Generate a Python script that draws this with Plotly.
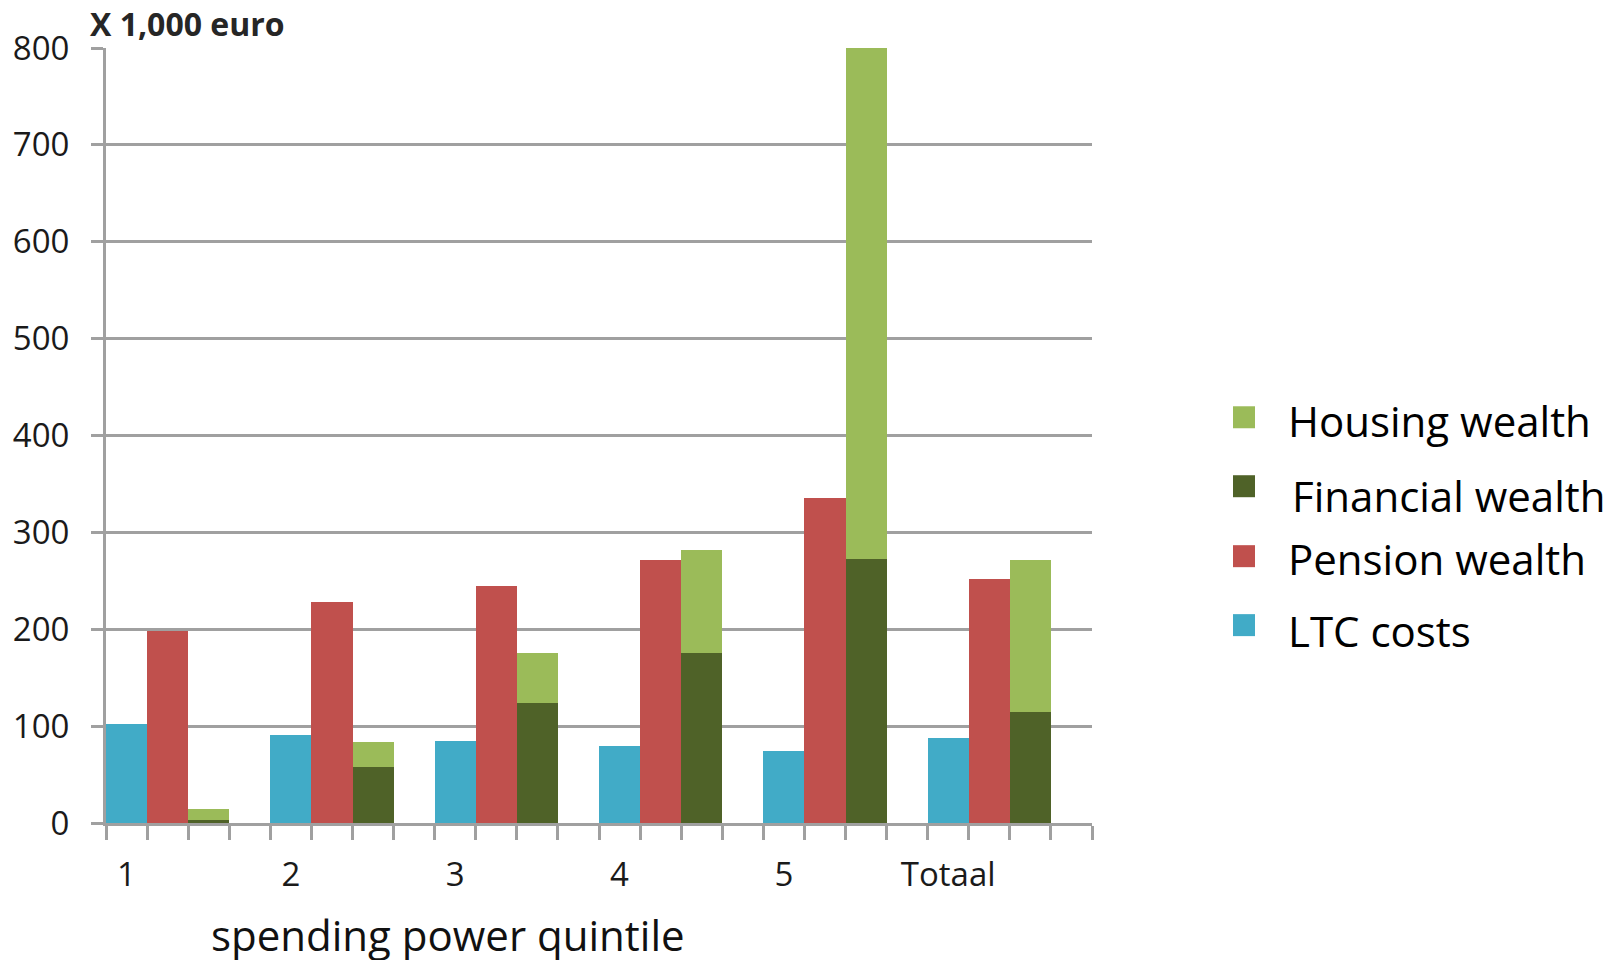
import plotly.graph_objects as go

# Categories (spending power quintiles plus the total)
categories = ["1", "2", "3", "4", "5", "Totaal"]

# Values in thousands of euro
ltc_costs = [102, 91, 85, 80, 74, 88]
pension_wealth = [198, 228, 245, 272, 336, 252]
financial_wealth = [3, 58, 124, 176, 273, 115]
housing_wealth = [11, 26, 52, 106, 527, 157]

y_ticks = [0, 100, 200, 300, 400, 500, 600, 700, 800]

colors = {
    "Housing wealth": "#9BBB59",
    "Financial wealth": "#4F6228",
    "Pension wealth": "#C0504D",
    "LTC costs": "#41ABC7",
}

FONT = "Open Sans"
GRID = "#A0A0A0"

# Each category occupies four slots: three bar slots and one empty slot
slots_per_group = 4
n_slots = slots_per_group * len(categories)
x_ltc = [slots_per_group * i + 0.5 for i in range(len(categories))]
x_pension = [slots_per_group * i + 1.5 for i in range(len(categories))]
x_wealth = [slots_per_group * i + 2.5 for i in range(len(categories))]

fig = go.Figure()
fig.add_trace(go.Bar(x=x_ltc, y=ltc_costs, width=1, name="LTC costs",
                     marker=dict(color=colors["LTC costs"], line=dict(width=0))))
fig.add_trace(go.Bar(x=x_pension, y=pension_wealth, width=1, name="Pension wealth",
                     marker=dict(color=colors["Pension wealth"], line=dict(width=0))))
fig.add_trace(go.Bar(x=x_wealth, y=financial_wealth, width=1, name="Financial wealth",
                     marker=dict(color=colors["Financial wealth"], line=dict(width=0))))
fig.add_trace(go.Bar(x=x_wealth, y=housing_wealth, width=1, name="Housing wealth",
                     marker=dict(color=colors["Housing wealth"], line=dict(width=0))))

# Plot area in pixels
W, H = 1621, 960
L, R, T, B = 106, 1092, 47.5, 823


def px(xp):
    return (xp - L) / (R - L)


def py(yp):
    return (B - yp) / (B - T)


annotations = [
    dict(text="<b>X 1,000 euro</b>", x=px(88), y=py(23), xref="paper", yref="paper",
         xanchor="left", yanchor="middle", showarrow=False,
         font=dict(family=FONT, size=32, color="#262626")),
    dict(text="spending power quintile", x=px(448), y=py(935), xref="paper", yref="paper",
         xanchor="center", yanchor="middle", showarrow=False,
         font=dict(family=FONT, size=42, color="#111111")),
]

shapes = []
legend_items = [
    ("Housing wealth", 417, 1286, 420),
    ("Financial wealth", 486, 1290, 495),
    ("Pension wealth", 556, 1286, 558),
    ("LTC costs", 625, 1286, 630),
]
for name, sq_y, tx, ty in legend_items:
    shapes.append(dict(type="rect", xref="paper", yref="paper",
                       x0=px(1233), x1=px(1255), y0=py(sq_y + 11), y1=py(sq_y - 11),
                       fillcolor=colors[name], line=dict(width=0)))
    annotations.append(dict(text=name, x=px(tx), y=py(ty), xref="paper", yref="paper",
                            xanchor="left", yanchor="middle", showarrow=False,
                            font=dict(family=FONT, size=42, color="#000000")))

fig.update_layout(
    width=W, height=H,
    margin=dict(l=L, r=W - R, t=T, b=H - B, pad=0, autoexpand=False),
    barmode="stack",
    bargap=0,
    showlegend=False,
    plot_bgcolor="white",
    paper_bgcolor="white",
    font=dict(family=FONT, color="#1a1a1a"),
    annotations=annotations,
    shapes=shapes,
)

fig.update_yaxes(
    range=[0, 800],
    tickvals=y_ticks,
    ticktext=[str(v) for v in y_ticks],
    showgrid=True, gridcolor=GRID, gridwidth=3,
    showline=True, linecolor=GRID, linewidth=3,
    ticks="outside", ticklen=12, tickwidth=3, tickcolor=GRID,
    ticklabelstandoff=15,
    automargin=False,
    zeroline=False,
    tickfont=dict(family=FONT, size=33, color="#1a1a1a"),
)

fig.update_xaxes(
    range=[0, n_slots],
    tickvals=x_ltc,
    ticktext=categories,
    ticks="",
    showgrid=False,
    showline=True, linecolor=GRID, linewidth=3,
    zeroline=False,
    automargin=False,
    ticklabelstandoff=20,
    tickfont=dict(family=FONT, size=33, color="#1a1a1a"),
    minor=dict(tickvals=list(range(n_slots + 1)), ticks="outside", ticklen=14,
               tickwidth=3, tickcolor=GRID, showgrid=False),
)

fig.write_html("out.html")
